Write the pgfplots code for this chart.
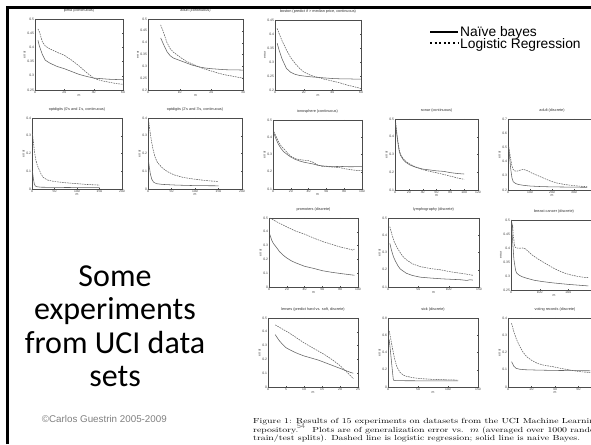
\documentclass[border=0pt]{standalone}
\usepackage{fontspec}
\usepackage{pgfplots}
\pgfplotsset{compat=1.18}
\newfontfamily\plotfont{Liberation Sans}
\newfontfamily\slidefont{Carlito}
\newcommand\ticfont{\plotfont\fontsize{3.4}{3.6}\selectfont}
\newcommand\titfont{\plotfont\fontsize{3.8}{4}\selectfont}
\pgfplotsset{
 mini/.style={
  scale only axis, anchor=south west,
  axis line style={black!70, line width=0.4pt},
  every tick/.style={black!70, line width=0.3pt},
  major tick length=1.4pt,
  tick align=inside,
  xtick pos=both, ytick pos=both,
  xticklabel pos=left, yticklabel pos=left,
  tick label style={font=\ticfont, text=black!75},
  xticklabel style={inner sep=0.8pt},
  yticklabel style={inner sep=0.8pt},
  title style={font=\titfont, text=black!80, inner sep=1pt},
  xlabel style={font=\ticfont, inner sep=0.6pt, text=black!75},
  ylabel style={font=\ticfont, inner sep=0.6pt, text=black!75},
  xlabel={m}, ylabel={error},
  /pgf/number format/assume math mode=true,
  /pgf/number format/fixed,
  scaled ticks=false,
  no markers,
  every axis plot/.append style={line width=0.55pt, color=black!62},
 },
 lr/.style={dash pattern=on 1.6pt off 0.9pt},
 nb/.style={solid},
}
\begin{document}
\begin{tikzpicture}
\path[use as bounding box] (0,0) rectangle (591pt,444pt);
\clip (0,0) rectangle (591pt,444pt);
\fill[white] (0,0) rectangle (591pt,444pt);
\draw[line width=3pt] (7.5pt,0pt) -- (7.5pt,436.5pt) -- (591pt,436.5pt);

% 1 pima
\begin{axis}[mini, at={(35pt,354pt)}, width=88pt, height=71pt,
 title={pima (continuous)}, xmin=0, xmax=60, xtick={0,20,40,60},
 ymin=0.25, ymax=0.5, ytick={0.25,0.3,0.35,0.4,0.45,0.5}]
\addplot[lr] coordinates {(2,0.465)(3,0.455)(5,0.42)(7,0.405)(10,0.395)(15,0.383)(20,0.372)(25,0.355)(30,0.335)(35,0.312)(40,0.292)(45,0.283)(50,0.278)(55,0.273)(60,0.27)};
\addplot[nb] coordinates {(2,0.425)(3,0.405)(5,0.375)(7,0.355)(10,0.345)(15,0.333)(20,0.325)(25,0.315)(30,0.305)(35,0.298)(40,0.292)(45,0.29)(50,0.288)(55,0.287)(60,0.286)};
\end{axis}

% 2 adult continuous
\begin{axis}[mini, at={(148pt,354pt)}, width=95pt, height=71pt,
 title={adult (continuous)}, xmin=0, xmax=30, xtick={0,10,20,30},
 ymin=0.2, ymax=0.5, ytick={0.2,0.25,0.3,0.35,0.4,0.45,0.5}]
\addplot[lr] coordinates {(4,0.475)(5,0.44)(6,0.40)(7,0.375)(8,0.36)(10,0.34)(12,0.322)(14,0.31)(16,0.298)(18,0.288)(20,0.28)(22,0.272)(24,0.265)(26,0.26)(28,0.255)(30,0.25)};
\addplot[nb] coordinates {(4,0.42)(5,0.39)(6,0.362)(7,0.345)(8,0.335)(10,0.325)(12,0.315)(14,0.305)(16,0.298)(18,0.293)(20,0.29)(22,0.288)(24,0.286)(26,0.285)(28,0.285)(30,0.284)};
\end{axis}

% 3 boston
\begin{axis}[mini, at={(275pt,354pt)}, width=86pt, height=70pt,
 title={boston (predict if > median price, continuous)}, xmin=0, xmax=60, xtick={0,20,40,60},
 ymin=0.2, ymax=0.45, ytick={0.2,0.25,0.3,0.35,0.4,0.45}]
\addplot[lr] coordinates {(1.5,0.42)(3,0.4)(5,0.375)(8,0.343)(11,0.315)(14,0.295)(17,0.278)(20,0.265)(25,0.252)(30,0.245)(35,0.238)(40,0.232)(45,0.226)(50,0.218)(55,0.212)(60,0.205)};
\addplot[nb] coordinates {(1.5,0.367)(3,0.34)(5,0.31)(8,0.277)(11,0.263)(14,0.256)(17,0.252)(20,0.25)(25,0.247)(30,0.245)(35,0.243)(40,0.241)(45,0.24)(50,0.24)(55,0.239)(60,0.239)};
\end{axis}

% 4 optdigits 0/1
\begin{axis}[mini, at={(32pt,255pt)}, width=90pt, height=71pt,
 title={optdigits (0's and 1's, continuous)}, xmin=0, xmax=200, xtick={0,50,100,150,200},
 ymin=0, ymax=0.4, ytick={0,0.1,0.2,0.3,0.4}]
\addplot[lr] coordinates {(1,0.31)(3,0.27)(5,0.22)(8,0.17)(11,0.14)(14,0.12)(20,0.085)(25,0.065)(35,0.05)(50,0.042)(75,0.035)(100,0.03)(125,0.025)(150,0.022)};
\addplot[nb] coordinates {(1,0.1)(3,0.06)(5,0.03)(7,0.018)(10,0.013)(20,0.01)(50,0.009)(100,0.008)(150,0.008)};
\end{axis}

% 5 optdigits 2/3
\begin{axis}[mini, at={(148pt,255pt)}, width=94pt, height=71pt,
 title={optdigits (2's and 3's, continuous)}, xmin=0, xmax=200, xtick={0,50,100,150,200},
 ymin=0, ymax=0.4, ytick={0,0.1,0.2,0.3,0.4}]
\addplot[lr] coordinates {(1,0.39)(3,0.35)(5,0.31)(8,0.26)(11,0.22)(15,0.18)(20,0.15)(30,0.12)(40,0.1)(55,0.08)(75,0.065)(100,0.055)(125,0.047)(150,0.042)};
\addplot[nb] coordinates {(1,0.16)(3,0.12)(5,0.085)(8,0.055)(12,0.038)(18,0.03)(30,0.026)(60,0.022)(100,0.019)(150,0.018)};
\end{axis}

% 6 ionosphere
\begin{axis}[mini, at={(273pt,255pt)}, width=89pt, height=69pt,
 title={ionosphere (continuous)}, xmin=0, xmax=100, xtick={0,20,40,60,80,100},
 ymin=0.1, ymax=0.5, ytick={0.1,0.2,0.3,0.4,0.5}]
\addplot[lr] coordinates {(1,0.432)(3,0.41)(6,0.375)(9,0.35)(12,0.334)(16,0.31)(20,0.29)(25,0.276)(30,0.27)(35,0.267)(40,0.264)(45,0.255)(50,0.24)(55,0.232)(60,0.23)(65,0.228)(70,0.226)(75,0.224)(80,0.218)(85,0.214)(90,0.21)(95,0.207)(100,0.206)};
\addplot[nb] coordinates {(1,0.423)(3,0.395)(6,0.36)(9,0.335)(12,0.316)(16,0.3)(20,0.285)(25,0.272)(30,0.262)(35,0.255)(40,0.25)(45,0.245)(50,0.238)(55,0.234)(60,0.232)(65,0.23)(70,0.23)(75,0.231)(80,0.23)(85,0.229)(90,0.229)(95,0.23)(100,0.229)};
\end{axis}

% 7 sonar
\begin{axis}[mini, at={(395pt,254pt)}, width=83pt, height=71pt,
 title={sonar (continuous)}, xmin=0, xmax=120, xtick={0,20,40,60,80,100,120},
 ymin=0.1, ymax=0.5, ytick={0.1,0.2,0.3,0.4,0.5}]
\addplot[lr] coordinates {(1,0.48)(2,0.44)(4,0.38)(6,0.33)(8,0.3)(12,0.275)(16,0.26)(22,0.245)(30,0.23)(40,0.215)(50,0.205)(60,0.197)(70,0.188)(80,0.178)(90,0.168)(100,0.16)};
\addplot[nb] coordinates {(1,0.47)(2,0.43)(4,0.37)(6,0.32)(8,0.295)(12,0.27)(16,0.255)(22,0.24)(30,0.228)(40,0.218)(50,0.213)(60,0.208)(70,0.205)(80,0.198)(90,0.193)(100,0.19)};
\end{axis}

% 8 adult discrete
\begin{axis}[mini, at={(508pt,254pt)}, width=88pt, height=71pt,
 title={adult (discrete)}, xmin=0, xmax=400, xtick={0,100,200,300,400},
 ymin=0.2, ymax=0.7, ytick={0.2,0.3,0.4,0.5,0.6,0.7}]
\addplot[lr] coordinates {(3,0.505)(8,0.46)(13,0.41)(18,0.37)(23,0.345)(30,0.335)(40,0.332)(55,0.34)(70,0.345)(90,0.335)(110,0.318)(130,0.305)(160,0.285)(190,0.265)(220,0.25)(260,0.238)(310,0.229)(360,0.223)};
\addplot[nb] coordinates {(3,0.505)(8,0.42)(13,0.34)(18,0.285)(24,0.258)(35,0.245)(50,0.238)(70,0.233)(100,0.228)(150,0.224)(200,0.222)(250,0.221)(300,0.22)(360,0.219)};
\end{axis}

% 9 promoters
\begin{axis}[mini, at={(269pt,157pt)}, width=89pt, height=69pt,
 title={promoters (discrete)}, xmin=0, xmax=100, xtick={0,20,40,60,80,100},
 ymin=0, ymax=0.5, ytick={0,0.1,0.2,0.3,0.4,0.5}]
\addplot[lr] coordinates {(1,0.5)(5,0.485)(10,0.468)(15,0.452)(20,0.435)(25,0.42)(30,0.405)(40,0.383)(50,0.355)(60,0.33)(70,0.31)(80,0.29)(90,0.275)(94,0.268)(96,0.275)};
\addplot[nb] coordinates {(1,0.38)(3,0.34)(5,0.315)(8,0.29)(12,0.255)(16,0.23)(20,0.21)(25,0.19)(30,0.175)(40,0.15)(50,0.135)(60,0.118)(70,0.107)(80,0.098)(90,0.09)(96,0.085)};
\end{axis}

% 10 lymphography
\begin{axis}[mini, at={(388pt,157pt)}, width=91pt, height=69pt,
 title={lymphography (discrete)}, xmin=0, xmax=150, xtick={0,50,100,150},
 ymin=0.1, ymax=0.5, ytick={0.1,0.2,0.3,0.4,0.5}]
\addplot[lr] coordinates {(3,0.45)(6,0.41)(10,0.365)(14,0.334)(20,0.3)(25,0.275)(31,0.256)(40,0.235)(53,0.218)(70,0.207)(86,0.2)(100,0.19)(115,0.182)(130,0.174)(140,0.168)};
\addplot[nb] coordinates {(3,0.353)(6,0.31)(9,0.275)(12,0.252)(16,0.225)(20,0.205)(30,0.18)(40,0.167)(53,0.157)(70,0.152)(90,0.147)(108,0.144)(120,0.142)(130,0.138)(135,0.142)(140,0.14)};
\end{axis}

% 11 breast cancer
\begin{axis}[mini, at={(511pt,154pt)}, width=86pt, height=70pt,
 title={breast cancer (discrete)}, xmin=0, xmax=300, xtick={0,100,200,300},
 ymin=0.25, ymax=0.5, ytick={0.25,0.3,0.35,0.4,0.45,0.5}]
\addplot[lr] coordinates {(2,0.5)(4,0.47)(6,0.48)(8,0.44)(10,0.43)(12,0.41)(15,0.402)(20,0.4)(30,0.399)(40,0.4)(50,0.397)(60,0.388)(70,0.378)(85,0.367)(100,0.357)(125,0.342)(150,0.327)(175,0.315)(200,0.306)(230,0.299)(264,0.294)(270,0.295)};
\addplot[nb] coordinates {(2,0.49)(4,0.45)(6,0.42)(8,0.39)(10,0.36)(13,0.34)(16,0.32)(20,0.31)(30,0.302)(40,0.297)(55,0.292)(80,0.285)(110,0.28)(150,0.275)(200,0.27)(264,0.265)(270,0.265)};
\end{axis}

% 12 lenses
\begin{axis}[mini, at={(268pt,57pt)}, width=90pt, height=69pt,
 title={lenses (predict hard vs. soft, discrete)}, xmin=0, xmax=25, xtick={0,5,10,15,20,25},
 ymin=0, ymax=0.5, ytick={0,0.1,0.2,0.3,0.4,0.5}]
\addplot[lr] coordinates {(2,0.45)(4,0.42)(6,0.39)(8,0.355)(10,0.32)(12,0.29)(14,0.26)(16,0.23)(18,0.195)(20,0.155)(21,0.13)(22,0.105)(23,0.08)(23.7,0.06)};
\addplot[nb] coordinates {(2,0.38)(3,0.34)(4,0.31)(5,0.285)(6,0.27)(8,0.245)(10,0.225)(12,0.21)(14,0.195)(16,0.175)(18,0.155)(20,0.135)(21,0.125)(22,0.115)(23,0.105)(23.7,0.1)};
\end{axis}

% 13 sick
\begin{axis}[mini, at={(388pt,57pt)}, width=90pt, height=69pt,
 title={sick (discrete)}, xmin=0, xmax=150, xtick={0,50,100,150},
 ymin=0, ymax=0.8, ytick={0,0.2,0.4,0.6,0.8}]
\addplot[lr] coordinates {(2,0.65)(4,0.58)(6,0.5)(8,0.43)(10,0.36)(12,0.3)(15,0.23)(20,0.17)(25,0.14)(30,0.125)(40,0.11)(50,0.1)(70,0.09)(90,0.085)(117,0.08)};
\addplot[nb] coordinates {(2,0.55)(4,0.42)(6,0.28)(8,0.14)(9,0.08)(12,0.075)(20,0.073)(50,0.072)(117,0.072)};
\end{axis}

% 14 voting records
\begin{axis}[mini, at={(508pt,57pt)}, width=94pt, height=69pt,
 title={voting records (discrete)}, xmin=0, xmax=80, xtick={0,20,40,60,80},
 ymin=0, ymax=0.4, ytick={0,0.1,0.2,0.3,0.4}]
\addplot[lr] coordinates {(3,0.37)(5,0.32)(7,0.28)(10,0.235)(13,0.2)(16,0.175)(20,0.155)(25,0.137)(30,0.127)(38,0.118)(45,0.108)(53,0.098)(60,0.09)(70,0.083)};
\addplot[nb] coordinates {(3,0.147)(5,0.12)(7,0.108)(10,0.103)(15,0.1)(25,0.098)(40,0.096)(55,0.095)(70,0.094)};
\end{axis}

% legend
\draw[line width=2pt] (430pt,411.7pt) -- (458pt,411.7pt);
\draw[line width=2pt, dash pattern=on 2pt off 2.6pt] (430pt,401.3pt) -- (458pt,401.3pt);
\node[anchor=base west, inner sep=0pt, font=\plotfont\fontsize{13.8}{15}\selectfont] at (460pt,407.3pt) {Naïve bayes};
\node[anchor=base west, inner sep=0pt, font=\plotfont\fontsize{13.8}{15}\selectfont] at (460pt,395.7pt) {Logistic Regression};

% slide text
\foreach \t/\yb in {Some/286.7, experiments/320, from UCI data/353.3, sets/386.7}{
  \node[anchor=base, inner sep=0pt, font=\slidefont\fontsize{32}{34}\selectfont] at (115pt,{(444-\yb)*1pt}) {\t};
}
\node[anchor=base west, inner sep=0pt, text=black!50, font=\plotfont\fontsize{9.8}{11}\selectfont] at (41.7pt,21.3pt) {©Carlos Guestrin 2005-2009};

% caption
\node[anchor=base west, inner sep=0pt] at (253pt,20pt) {\scalebox{1}[0.75]{\fontsize{9.8}{11}\selectfont Figure 1: Results of 15 experiments on datasets from the UCI Machine Learning}};
\node[anchor=base west, inner sep=0pt] at (253pt,11.5pt) {\scalebox{1}[0.75]{\fontsize{9.8}{11}\selectfont repository.\hspace{1em} Plots are of generalization error vs.\ \ $m$ (averaged over 1000 random}};
\node[anchor=base west, inner sep=0pt] at (253pt,3pt) {\scalebox{1}[0.75]{\fontsize{9.8}{11}\selectfont train/test splits). Dashed line is logistic regression; solid line is naive Bayes.}};
\node[anchor=base west, inner sep=0pt, text=black!55, font=\plotfont\fontsize{7}{8}\selectfont] at (297pt,15.5pt) {54};
\end{tikzpicture}
\end{document}
